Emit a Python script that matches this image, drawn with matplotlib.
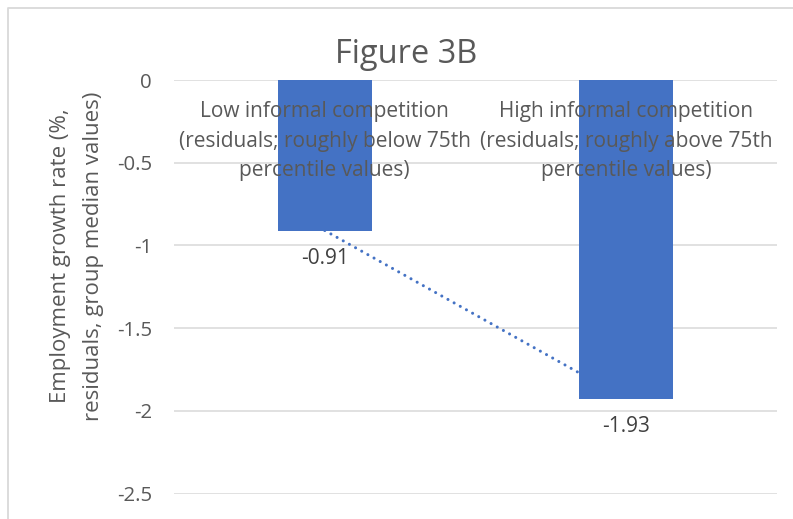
import numpy as np
from matplotlib import pyplot as plt
from matplotlib.lines import Line2D

# group medians of employment growth residuals
categories = ['Low informal competition\n(residuals; roughly below 75th\npercentile values)',
              'High informal competition\n(residuals; roughly above 75th\npercentile values)']
values = [-0.91, -1.93]
yticks = [0, -0.5, -1, -1.5, -2, -2.5]
ytick_labels = ['0', '-0.5', '-1', '-1.5', '-2', '-2.5']
ylabel_lines = ['Employment growth rate (%,', 'residuals, group median values)']

blue = '#4472C4'
grey = '#595959'
grid = '#D9D9D9'
plt.rcParams['font.family'] = ['Open Sans', 'DejaVu Sans']

W, H = 793, 519
fig = plt.figure(figsize=(W / 100, H / 100), dpi=100)
ax = fig.add_axes([174 / W, 1 - 493.5 / H, (777 - 174) / W, (493.5 - 80) / H])

x = np.arange(len(values))
ax.bar(x, values, width=0.312, color=blue, zorder=2)

# linear trendline through the two bars
fit = np.polyfit(x, values, 1)
ax.plot(x, np.polyval(fit, x), color=blue, lw=2.2, linestyle=(0, (0.01, 2.3)),
        dash_capstyle='round', zorder=1)

for xi, v in zip(x, values):
    ax.annotate(f'{v:.2f}', (xi, v), xytext=(0, -20), textcoords='offset points',
                ha='center', va='center', fontsize=15, color='#404040', zorder=4)
    ax.annotate(categories[xi], (xi, 0), xytext=(0, -44), textcoords='offset points',
                ha='center', va='center', fontsize=15, color=grey,
                multialignment='center', linespacing=1.55, zorder=5)

ax.set_xlim(-0.5, 1.5)
ax.set_ylim(-2.5, 0)
ax.set_yticks(yticks)
ax.set_yticklabels(ytick_labels)
ax.set_xticks([])
ax.tick_params(axis='y', length=0, pad=16, labelsize=14.7, labelcolor=grey)
ax.grid(axis='y', color=grid, lw=1.1, zorder=0)
ax.set_axisbelow(True)
for s in ax.spines.values():
    s.set_visible(False)

fig.text(406 / W, 1 - 54 / H, 'Figure 3B', ha='center', va='center',
         fontsize=23.5, color=grey)
for xpix, line in zip([61, 93.5], ylabel_lines):
    fig.text(xpix / W, 1 - 256 / H, line, rotation=90, ha='center', va='center',
             fontsize=16, color=grey)

# chart area frame (top and left edges)
fig.add_artist(Line2D([8 / W, 8 / W, 1.0], [0.0, 1 - 8 / H, 1 - 8 / H],
                      transform=fig.transFigure, color=grid, lw=1.3))

fig.savefig('out.png', dpi=100)
